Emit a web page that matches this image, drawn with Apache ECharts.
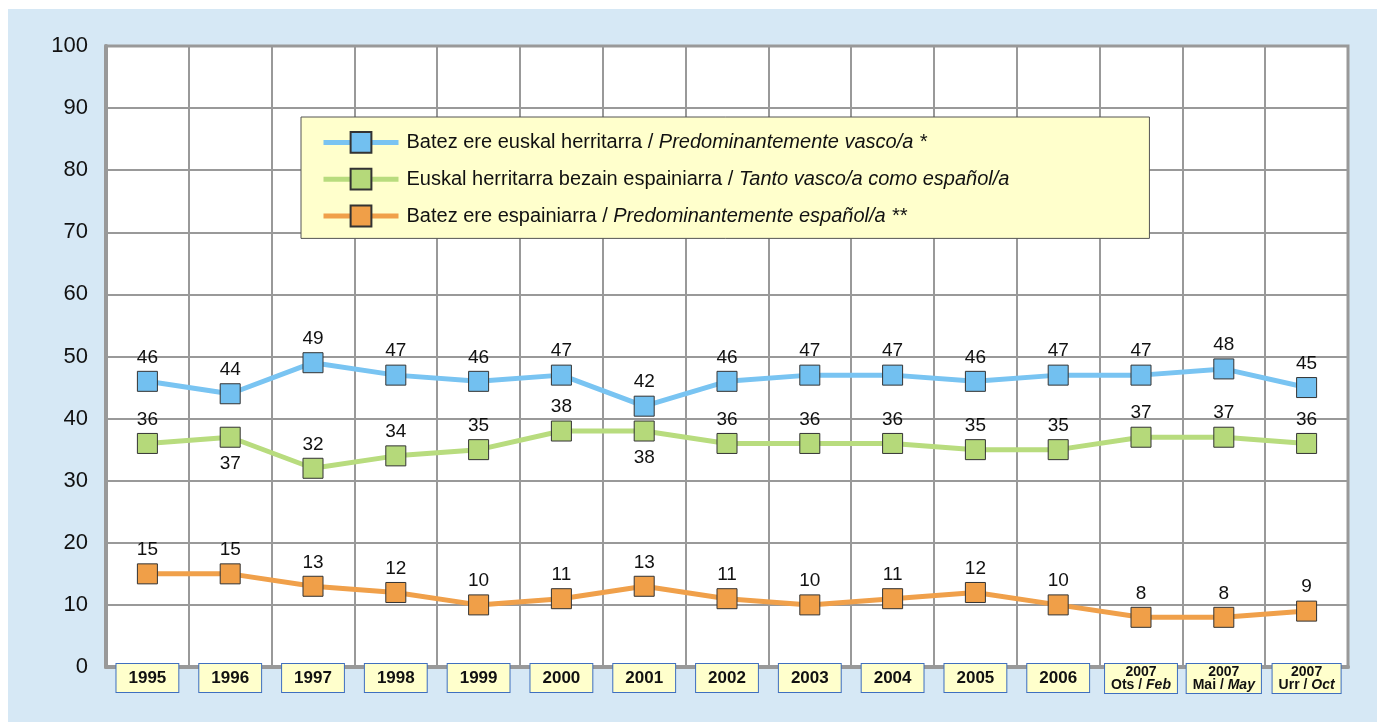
<!DOCTYPE html>
<html>
<head>
<meta charset="utf-8">
<script src="https://cdn.jsdelivr.net/npm/echarts@6/dist/echarts.min.js"></script>
<style>
    html, body { margin: 0; padding: 0; background: #fff; }
    #chart { position: absolute; left: 8px; top: 9px; width: 1369px; height: 713px; background: #d6e8f5; }
</style>
</head>
<body>
<div id="chart"></div>
<script>
// categories (x axis)
let years = ['1995', '1996', '1997', '1998', '1999', '2000', '2001', '2002', '2003', '2004', '2005', '2006',
    '2007\n{n|Ots / }{i|Feb}', '2007\n{n|Mai / }{i|May}', '2007\n{n|Urr / }{i|Oct}'];

// series values
let vasco = [46, 44, 49, 47, 46, 47, 42, 46, 47, 47, 46, 47, 47, 48, 45];
let ambos = [36, 37, 32, 34, 35, 38, 38, 36, 36, 36, 35, 35, 37, 37, 36];
let espanol = [15, 15, 13, 12, 10, 11, 13, 11, 10, 11, 12, 10, 8, 8, 9];

// y tick labels
let yTicks = [0, 10, 20, 30, 40, 50, 60, 70, 80, 90, 100];

let seriesNames = [
    'Batez ere euskal herritarra / {i|Predominantemente vasco/a *}',
    'Euskal herritarra bezain espainiarra / {i|Tanto vasco/a como español/a}',
    'Batez ere espainiarra / {i|Predominantemente español/a **}'
];

let font = "'Liberation Sans', Arial, sans-serif";
let myChart = echarts.init(document.getElementById('chart'));

// green labels that sit under the point
let ambosBelow = [1, 6];

let catData = years.map(function (y) {
    if (y.indexOf('\n') < 0) {
        return y;
    }
    return {
        value: y,
        textStyle: {
            fontSize: 14,
            lineHeight: 13,
            padding: [2, 6, 1, 6]
        }
    };
});

let makeSeries = (name, data, lineColor, fillColor, below) => {
    return {
        name: name,
        type: 'line',
        data: data.map(function (v, i) {
            if (below && below.indexOf(i) >= 0) {
                return { value: v, label: { position: 'bottom', distance: 7 } };
            }
            return v;
        }),
        symbol: 'rect',
        symbolSize: 20,
        lineStyle: { color: lineColor, width: 5 },
        itemStyle: { color: fillColor, borderColor: '#333', borderWidth: 1 },
        label: {
            show: true,
            position: 'top',
            distance: 4,
            fontSize: 19,
            fontFamily: font,
            color: '#111'
        },
        emphasis: { disabled: true },
        animation: false
    };
};

let option = {
    animation: false,
    textStyle: { fontFamily: font },
    grid: {
        left: 98,
        top: 37,
        right: 29,
        bottom: 55,
        show: true,
        backgroundColor: '#ffffff',
        borderColor: '#999',
        borderWidth: 3
    },
    legend: {
        orient: 'vertical',
        left: 293,
        top: 108,
        backgroundColor: '#ffffcc',
        borderColor: '#555',
        borderWidth: 1,
        borderRadius: 0,
        padding: [14, 140, 11, 20],
        itemWidth: 75,
        itemHeight: 26,
        itemGap: 14,
        lineStyle: { width: 5 },
        textStyle: {
            fontSize: 20,
            fontFamily: font,
            color: '#111',
            padding: [0, 0, 0, 3],
            rich: {
                i: { fontSize: 20, fontFamily: font, fontStyle: 'italic', color: '#111' }
            }
        },
        data: seriesNames
    },
    xAxis: {
        type: 'category',
        data: catData,
        boundaryGap: true,
        axisLine: { show: true, lineStyle: { color: '#999', width: 4 } },
        axisTick: { show: false },
        splitLine: { show: true, lineStyle: { color: '#999', width: 2 } },
        axisLabel: {
            interval: 0,
            margin: -3,
            verticalAlign: 'top',
            fontFamily: font,
            fontWeight: 'bold',
            fontSize: 17,
            lineHeight: 17,
            color: '#111',
            backgroundColor: '#ffffcc',
            borderColor: '#3f6fbf',
            borderWidth: 1,
            padding: [6, 12, 5, 12],
            rich: {
                n: { fontSize: 14, lineHeight: 13, fontWeight: 'bold', fontFamily: font, color: '#111' },
                i: { fontSize: 14, lineHeight: 13, fontWeight: 'bold', fontStyle: 'italic', fontFamily: font, color: '#111' }
            }
        }
    },
    yAxis: {
        type: 'value',
        min: yTicks[0],
        max: yTicks[yTicks.length - 1],
        interval: yTicks[1] - yTicks[0],
        axisLine: { show: true, lineStyle: { color: '#999', width: 4 } },
        axisTick: { show: false },
        splitLine: { show: true, lineStyle: { color: '#999', width: 2 } },
        axisLabel: {
            fontSize: 22,
            fontFamily: font,
            color: '#111',
            margin: 18
        }
    },
    series: [
        makeSeries(seriesNames[0], vasco, '#79c4f2', '#72c0f0'),
        makeSeries(seriesNames[1], ambos, '#b8dc7e', '#b5d97a', ambosBelow),
        makeSeries(seriesNames[2], espanol, '#f0a04a', '#f09f48')
    ]
};
myChart.setOption(option);
</script>
</body>
</html>
